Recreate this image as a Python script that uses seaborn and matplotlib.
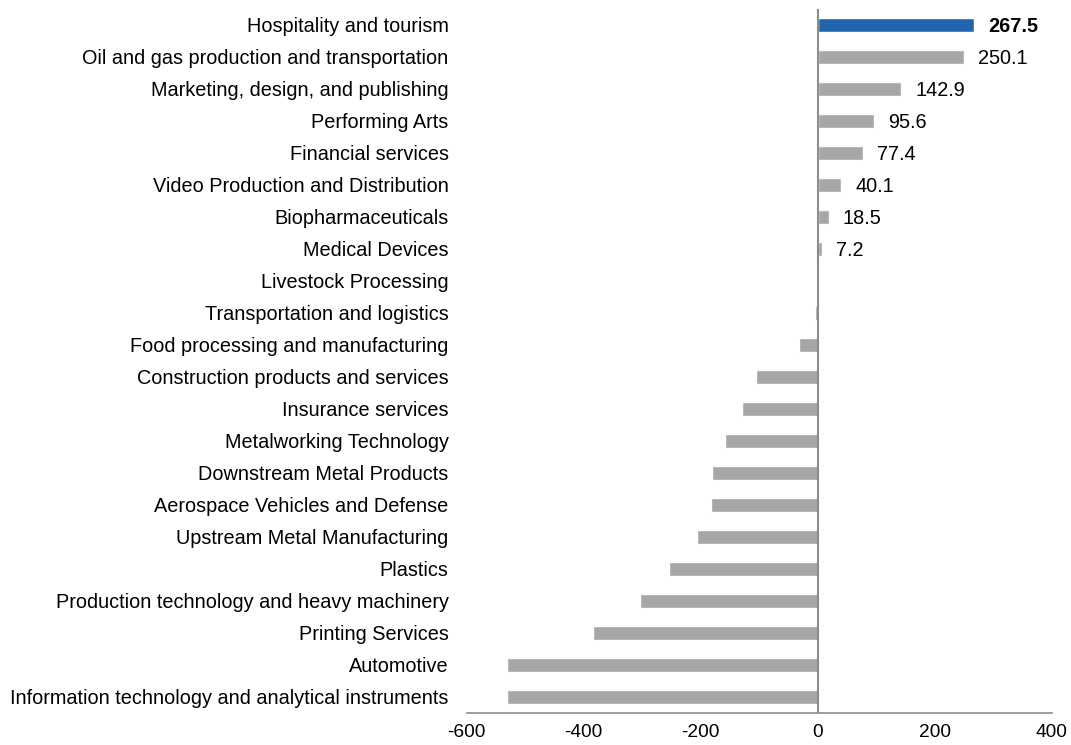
import pandas as pd
import matplotlib
matplotlib.use("Agg")
import matplotlib.pyplot as plt
import seaborn as sns

# Data
industries = [
    "Hospitality and tourism",
    "Oil and gas production and transportation",
    "Marketing, design, and publishing",
    "Performing Arts",
    "Financial services",
    "Video Production and Distribution",
    "Biopharmaceuticals",
    "Medical Devices",
    "Livestock Processing",
    "Transportation and logistics",
    "Food processing and manufacturing",
    "Construction products and services",
    "Insurance services",
    "Metalworking Technology",
    "Downstream Metal Products",
    "Aerospace Vehicles and Defense",
    "Upstream Metal Manufacturing",
    "Plastics",
    "Production technology and heavy machinery",
    "Printing Services",
    "Automotive",
    "Information technology and analytical instruments",
]
change = [267.5, 250.1, 142.9, 95.6, 77.4, 40.1, 18.5, 7.2, 0.0, -4.0,
          -32.0, -106.0, -129.0, -159.0, -180.0, -183.0, -206.0, -254.0,
          -304.0, -385.0, -531.0, -532.0]
highlight = "Hospitality and tourism"
xticks = [-600, -400, -200, 0, 200, 400]

df = pd.DataFrame({"Industry": industries, "Change": change})
df["Group"] = ["top" if i == highlight else "other" for i in df["Industry"]]

sns.set_style("white")
plt.rcParams["font.family"] = ["Liberation Sans", "DejaVu Sans"]
plt.rcParams["text.color"] = "black"
plt.rcParams["xtick.labelcolor"] = "black"
plt.rcParams["ytick.labelcolor"] = "black"

fig = plt.figure(figsize=(10.71, 7.45), dpi=100)
ax = fig.add_axes([0.4358, 0.043, 0.5462, 0.945])

sns.barplot(data=df, x="Change", y="Industry", hue="Group", orient="h",
            palette={"top": "#2166AC", "other": "#A6A6A6"}, saturation=1,
            width=0.41, legend=False, ax=ax, order=industries)

ax.set_xlim(-600, 400)
ax.set_ylim(len(industries) - 0.5, -0.5)
ax.set_xticks(xticks)
ax.set_xticklabels([str(t) for t in xticks])
ax.set_xlabel("")
ax.set_ylabel("")

# value labels for positive bars
for i, v in enumerate(change):
    if v > 1:
        bold = industries[i] == highlight
        ax.text(v + 24, i + 0.04, f"{v:.1f}", va="center", ha="left", fontsize=14.3,
                fontweight="bold" if bold else "normal", color="black")

for s in ["top", "right", "left"]:
    ax.spines[s].set_visible(False)
ax.spines["bottom"].set_color("#8C8C8C")
ax.spines["bottom"].set_linewidth(1.2)
ax.axvline(0, color="#8C8C8C", lw=1.5, zorder=3)

ax.tick_params(axis="x", direction="out", length=4, color="#8C8C8C", width=1.2,
               pad=4, labelsize=13.8)
ax.tick_params(axis="y", length=0, pad=13, labelsize=14.3)

fig.savefig("out.png", dpi=100)
